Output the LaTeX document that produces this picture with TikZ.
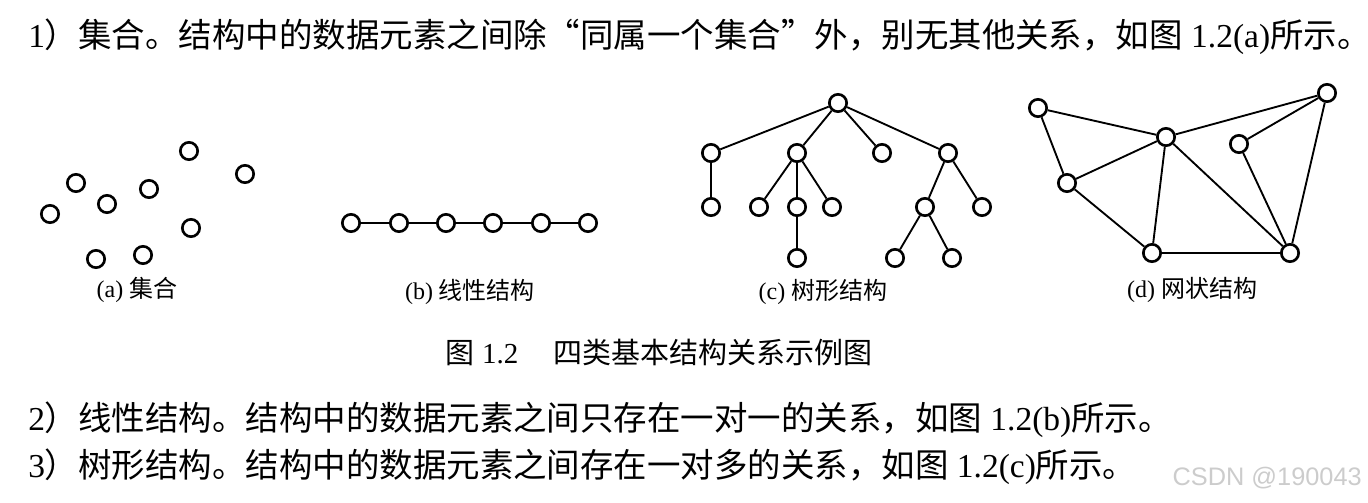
\documentclass[tikz,border=0pt]{standalone}
\usepackage{fontspec}
\setmainfont{Liberation Serif}
\newfontfamily\cjk{Noto Sans CJK SC}
\newfontfamily\wmark{Liberation Sans}

\begin{document}
\begin{tikzpicture}[x=0.75pt,y=-0.75pt,
  vtx/.style={circle,draw,line width=2pt,minimum size=13pt,inner sep=0pt},
  edge/.style={line width=1.4pt},
  body/.style={anchor=west,inner sep=0pt,font=\fontsize{25.1}{30}\selectfont},
  sub/.style={inner sep=0pt,font=\fontsize{18}{22}\selectfont},
  caption/.style={inner sep=0pt,font=\fontsize{21.75}{26}\selectfont}]
  \useasboundingbox (0,0) rectangle (1368,503);

  % text above and below
  \node[body] (line1) at (28,37) {1{\cjk ）集合。结构中的数据元素之间除\makebox[1em][r]{“}同属一个集合\makebox[1em][l]{”}外，别无其他关系，如图} 1.2(a){\cjk 所示。}};
  \node[body] (line2) at (28,420) {2{\cjk ）线性结构。结构中的数据元素之间只存在一对一的关系，如图} 1.2(b){\cjk 所示。}};
  \node[body] (line3) at (28,467) {3{\cjk ）树形结构。结构中的数据元素之间存在一对多的关系，如图} 1.2(c){\cjk 所示。}};
  \node[caption] (cap) at (659,352) {{\cjk 图} 1.2\hspace{1.2em}{\cjk 四类基本结构关系示例图}};
  \node[anchor=east,inner sep=0pt,text=gray!40,font=\wmark\fontsize{19}{22}\selectfont] (mark) at (1362,478) {CSDN @190043};

  % (a) set
  \node[vtx] (a1) at (189,151) {};
  \node[vtx] (a2) at (245,174) {};
  \node[vtx] (a3) at (76,183) {};
  \node[vtx] (a4) at (149,189) {};
  \node[vtx] (a5) at (107,204) {};
  \node[vtx] (a6) at (50,214) {};
  \node[vtx] (a7) at (191,228) {};
  \node[vtx] (a8) at (96,259) {};
  \node[vtx] (a9) at (143,255) {};
  \node[sub] (la) at (137,290) {(a) {\cjk 集合}};

  % (b) linear
  \node[vtx] (b1) at (351,223) {};
  \node[vtx] (b2) at (399,223) {};
  \node[vtx] (b3) at (446,223) {};
  \node[vtx] (b4) at (493,223) {};
  \node[vtx] (b5) at (541,223) {};
  \node[vtx] (b6) at (588,223) {};
  \draw[edge] (b1) -- (b2) -- (b3) -- (b4) -- (b5) -- (b6);
  \node[sub] (lb) at (470,292) {(b) {\cjk 线性结构}};

  % (c) tree
  \node[vtx] (root) at (838,103) {};
  \node[vtx] (c1) at (711,153) {};
  \node[vtx] (c2) at (797,153) {};
  \node[vtx] (c3) at (882,153) {};
  \node[vtx] (c4) at (948,153) {};
  \node[vtx] (c11) at (711,207) {};
  \node[vtx] (c21) at (759,207) {};
  \node[vtx] (c22) at (797,207) {};
  \node[vtx] (c23) at (832,207) {};
  \node[vtx] (c41) at (925,207) {};
  \node[vtx] (c42) at (982,207) {};
  \node[vtx] (c221) at (797,258) {};
  \node[vtx] (c411) at (895,258) {};
  \node[vtx] (c412) at (952,258) {};
  \draw[edge] (root) -- (c1);
  \draw[edge] (root) -- (c2);
  \draw[edge] (root) -- (c3);
  \draw[edge] (root) -- (c4);
  \draw[edge] (c1) -- (c11);
  \draw[edge] (c2) -- (c21);
  \draw[edge] (c2) -- (c22);
  \draw[edge] (c2) -- (c23);
  \draw[edge] (c22) -- (c221);
  \draw[edge] (c4) -- (c41);
  \draw[edge] (c4) -- (c42);
  \draw[edge] (c41) -- (c411);
  \draw[edge] (c41) -- (c412);
  \node[sub] (lc) at (823,292) {(c) {\cjk 树形结构}};

  % (d) network
  \node[vtx] (d1) at (1038,108) {};
  \node[vtx] (d2) at (1327,93) {};
  \node[vtx] (d3) at (1166,137) {};
  \node[vtx] (d4) at (1239,144) {};
  \node[vtx] (d5) at (1067,183) {};
  \node[vtx] (d6) at (1152,253) {};
  \node[vtx] (d7) at (1290,253) {};
  \draw[edge] (d1) -- (d3);
  \draw[edge] (d1) -- (d5);
  \draw[edge] (d3) -- (d2);
  \draw[edge] (d5) -- (d3);
  \draw[edge] (d5) -- (d6);
  \draw[edge] (d3) -- (d6);
  \draw[edge] (d3) -- (d7);
  \draw[edge] (d4) -- (d2);
  \draw[edge] (d4) -- (d7);
  \draw[edge] (d2) -- (d7);
  \draw[edge] (d6) -- (d7);
  \node[sub] (ld) at (1192,290) {(d) {\cjk 网状结构}};
\end{tikzpicture}
\end{document}
